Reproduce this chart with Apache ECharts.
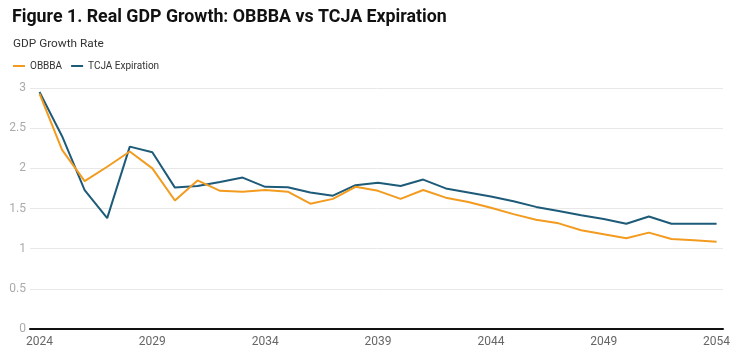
<!DOCTYPE html>
<html><head><meta charset="utf-8">
<script src="https://cdn.jsdelivr.net/npm/echarts@6/dist/echarts.min.js"></script>
<style>html,body{margin:0;padding:0;background:#fff}#c{width:740px;height:355px}</style>
</head><body><div id="c"></div>
<script>
const years = [2024,2025,2026,2027,2028,2029,2030,2031,2032,2033,2034,2035,2036,2037,2038,2039,2040,2041,2042,2043,2044,2045,2046,2047,2048,2049,2050,2051,2052,2053,2054];
const obbba = [2.93,2.23,1.84,2.02,2.21,2.00,1.60,1.85,1.72,1.71,1.73,1.71,1.56,1.62,1.77,1.72,1.62,1.73,1.635,1.58,1.51,1.43,1.36,1.315,1.23,1.18,1.13,1.20,1.12,1.105,1.085];
const tcja = [2.95,2.40,1.73,1.38,2.27,2.20,1.76,1.78,1.83,1.885,1.77,1.765,1.70,1.66,1.79,1.82,1.78,1.86,1.75,1.70,1.65,1.59,1.52,1.47,1.415,1.37,1.31,1.40,1.31,1.31,1.31];
const xTicks = [2024,2029,2034,2039,2044,2049,2054];
const FONT = 'Roboto';
const chart = echarts.init(document.getElementById('c'));
chart.setOption({
  animation:false,
  textStyle:{fontFamily:FONT},
  title:[
    {text:'Figure 1. Real GDP Growth: OBBBA vs TCJA Expiration',left:7,top:4,textStyle:{fontFamily:FONT,fontSize:17.8,fontWeight:'bold',color:'#111'}},
    {text:'GDP Growth Rate',left:8,top:33,textStyle:{fontFamily:FONT,fontSize:11.8,fontWeight:'normal',color:'#333'}}
  ],
  legend:{left:8,top:56,icon:'rect',itemWidth:12,itemHeight:2,itemGap:9,textStyle:{fontFamily:FONT,fontSize:10,color:'#333'},data:['OBBBA','TCJA Expiration']},
  grid:{left:30,right:17,top:88,bottom:26},
  xAxis:{type:'value',min:2023.579,max:2054.284,
    axisLine:{show:true,lineStyle:{color:'#111',width:2}},
    axisTick:{show:false},splitLine:{show:false},
    axisLabel:{customValues:xTicks,color:'#666',fontSize:12,margin:7,formatter:v=>String(v)}},
  yAxis:{type:'value',min:0,max:3,interval:0.5,
    axisLine:{show:false},axisTick:{show:false},
    splitLine:{lineStyle:{color:'#e8e8e8',width:1}},
    axisLabel:{color:'#aaa',fontSize:12,margin:4}},
  series:[
    {name:'OBBBA',type:'line',symbol:'none',data:years.map((y,i)=>[y,obbba[i]]),lineStyle:{color:'#F39B1E',width:2},itemStyle:{color:'#F39B1E'},z:3},
    {name:'TCJA Expiration',type:'line',symbol:'none',data:years.map((y,i)=>[y,tcja[i]]),lineStyle:{color:'#1D5B79',width:2},itemStyle:{color:'#1D5B79'},z:2}
  ]
});
</script></body></html>
